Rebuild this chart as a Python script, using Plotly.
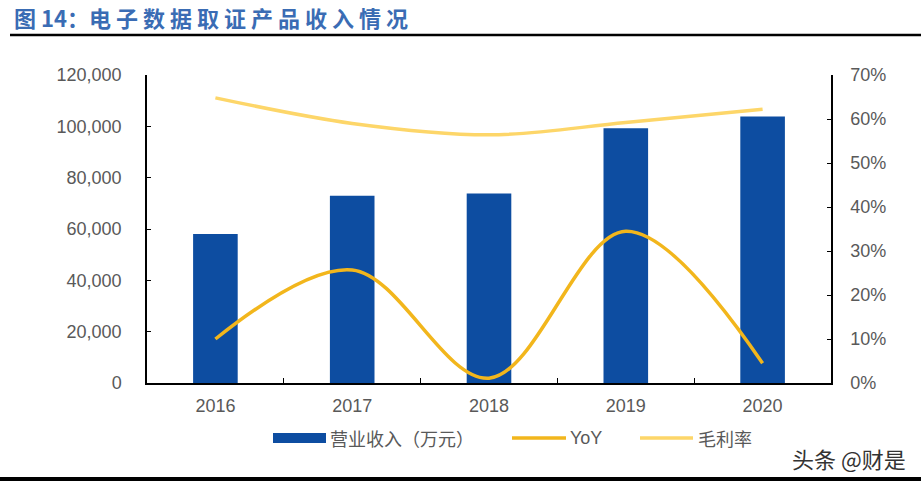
import plotly.graph_objs as go

# 数据
years = ["2016", "2017", "2018", "2019", "2020"]
revenue = [58100, 73000, 73800, 99300, 103800]      # 营业收入（万元）
yoy = [0.100, 0.257, 0.011, 0.345, 0.045]           # YoY
gross_margin = [0.648, 0.590, 0.564, 0.592, 0.622]  # 毛利率

BLUE = "#0D4DA1"
GOLD = "#F2B61C"
LIGHT = "#FDD669"
GRAY = "#595959"
TICK_FONT = dict(family="Liberation Sans, Arial", size=18, color=GRAY)
CJK = "Noto Sans CJK SC"

fig = go.Figure()
fig.add_trace(go.Bar(x=years, y=revenue, name="营业收入（万元）",
                     marker=dict(color=BLUE, line=dict(width=0))))
fig.add_trace(go.Scatter(x=years, y=yoy, name="YoY", yaxis="y2", mode="lines",
                         line=dict(color=GOLD, width=3.5, shape="spline", smoothing=1.0)))
fig.add_trace(go.Scatter(x=years, y=gross_margin, name="毛利率", yaxis="y2", mode="lines",
                         line=dict(color=LIGHT, width=3.5, shape="spline", smoothing=1.0)))

fig.update_layout(
    width=921, height=483,
    margin=dict(l=147, r=90, t=75, b=100),
    paper_bgcolor="white", plot_bgcolor="white",
    showlegend=False,
    bargap=0.674,
    xaxis=dict(type="category", showline=True, linecolor="black", linewidth=1.5,
               ticks="inside", tickson="boundaries", ticklen=5, tickcolor="black",
               tickfont=TICK_FONT, showgrid=False, zeroline=False, ticklabelstandoff=6),
    yaxis=dict(range=[0, 120000], dtick=20000, tickformat=",", showline=True,
               linecolor="black", linewidth=1.5, ticks="inside", ticklen=4,
               tickcolor="black", tickfont=TICK_FONT, showgrid=False, zeroline=False,
               ticklabelstandoff=20),
    yaxis2=dict(range=[0, 0.7], dtick=0.1, tickformat=".0%", overlaying="y", side="right",
                showline=True, linecolor="black", linewidth=1.5, ticks="inside", ticklen=4,
                tickcolor="black", tickfont=TICK_FONT, showgrid=False, zeroline=False,
                ticklabelstandoff=14),
)


def px_x(v):
    return (v - 147) / 684


def px_y(v):
    return (383 - v) / 308


# 标题和分隔线
fig.add_annotation(text="<b>图 14：电 子 数 据 取 证 产 品 收 入 情 况</b>", xref="paper", yref="paper",
                   x=px_x(12), y=px_y(17), xanchor="left", yanchor="middle",
                   showarrow=False, font=dict(family=CJK, size=22, color="#3A6CB4"))
shapes = [
    dict(type="line", xref="paper", yref="paper", x0=px_x(10), x1=px_x(921),
         y0=px_y(35), y1=px_y(35), line=dict(color="black", width=2.5)),
    dict(type="line", xref="paper", yref="paper", x0=px_x(0), x1=px_x(921),
         y0=px_y(479), y1=px_y(479), line=dict(color="black", width=4)),
]

# 手绘图例
ly = 438
shapes.append(dict(type="rect", xref="paper", yref="paper", x0=px_x(273), x1=px_x(326),
                   y0=px_y(ly + 5), y1=px_y(ly - 5), fillcolor=BLUE, line=dict(width=0)))
shapes.append(dict(type="line", xref="paper", yref="paper", x0=px_x(512), x1=px_x(566),
                   y0=px_y(ly), y1=px_y(ly), line=dict(color=GOLD, width=3.5)))
shapes.append(dict(type="line", xref="paper", yref="paper", x0=px_x(640), x1=px_x(693),
                   y0=px_y(ly), y1=px_y(ly), line=dict(color=LIGHT, width=3.5)))
fig.update_layout(shapes=shapes)

legend_items = [("营业收入（万元）", 328), ("YoY", 568), ("毛利率", 696)]
for txt, xpos in legend_items:
    fam = "Liberation Sans, Arial" if txt == "YoY" else CJK
    fig.add_annotation(text=txt, xref="paper", yref="paper", x=px_x(xpos), y=px_y(ly),
                       xanchor="left", yanchor="middle", showarrow=False,
                       font=dict(family=fam, size=18, color=GRAY))

# 水印
fig.add_annotation(text="头条 @财是", xref="paper", yref="paper", x=px_x(908), y=px_y(458),
                   xanchor="right", yanchor="middle", showarrow=False,
                   font=dict(family=CJK, size=22, color="#333333"))

fig.write_html("out.html", config={"displayModeBar": False},
               post_script="document.body.style.margin='0';")
